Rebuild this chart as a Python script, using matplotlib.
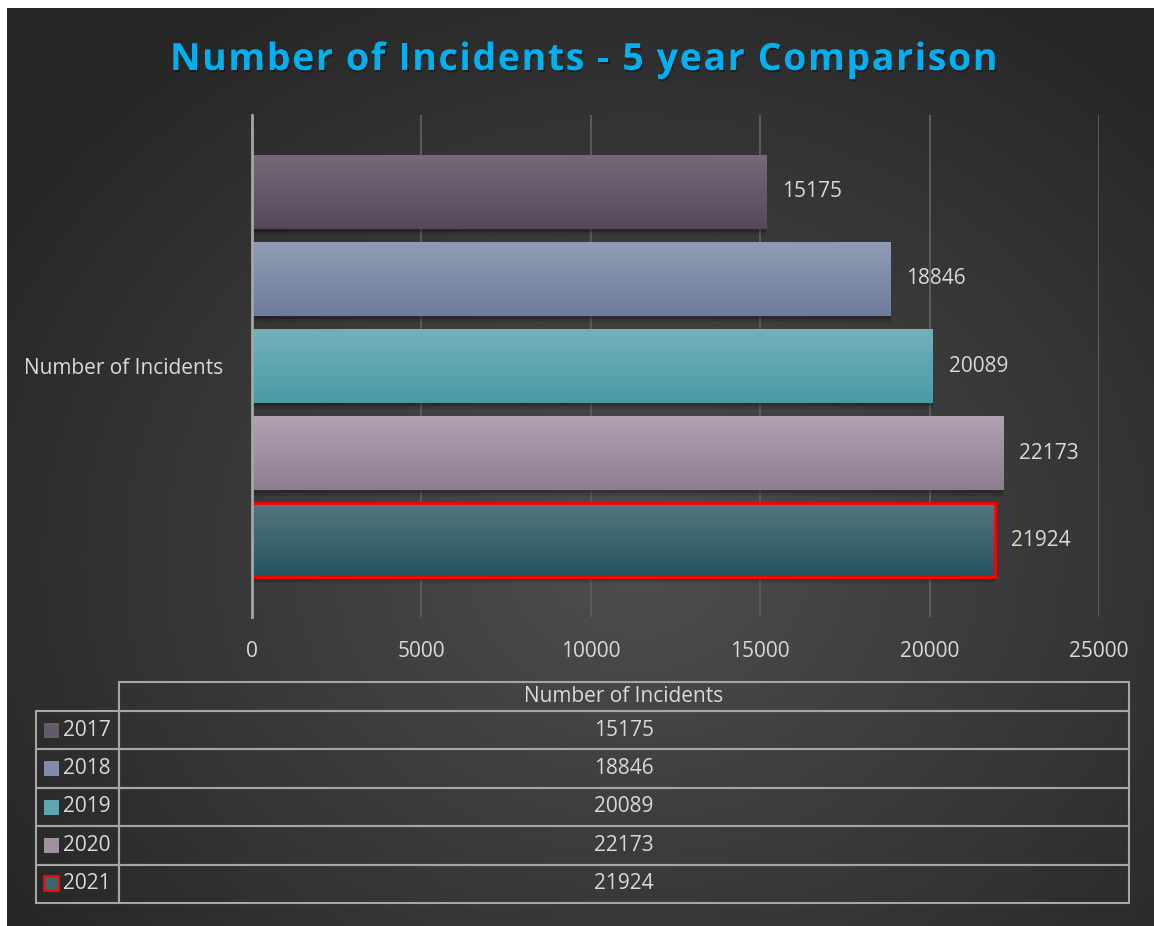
import numpy as np
import matplotlib.pyplot as plt
import matplotlib.patheffects as pe
from matplotlib.colors import LinearSegmentedColormap
from matplotlib.table import Table
from matplotlib.patches import Rectangle
from matplotlib.font_manager import FontProperties, findfont
from matplotlib.ft2font import FT2Font

plt.rcParams['font.family'] = ['Open Sans', 'DejaVu Sans']

# dados
anos = ['2017', '2018', '2019', '2020', '2021']
incidentes = [15175, 18846, 20089, 22173, 21924]
categoria = 'Number of Incidents'
titulo = 'Number of Incidents - 5 year Comparison'
ticks_x = [0, 5000, 10000, 15000, 20000, 25000]

# cores (topo / base do gradiente de cada barra)
cores_topo = ['#766a79', '#909cb4', '#74b0b9', '#b1a2b2', '#54767e']
cores_base = ['#54485a', '#6d7d9b', '#4a9aa6', '#8e7d91', '#245460']
cor_texto = '#d9d9d9'
cor_linha = '#a6a6a6'
tam = 15

W, H = 1154, 926
fig = plt.figure(figsize=(W / 100, H / 100), dpi=100, facecolor='white')

# fundo escuro com gradiente radial
ax_fundo = fig.add_axes([7 / W, 0, 1 - 7 / W, 1 - 8 / H])
ax_fundo.set_axis_off()
yy, xx = np.mgrid[-1:1:300j, -1:1:400j]
r = np.sqrt(((xx - 0.1) / 1.3) ** 2 + ((yy - 0.2) / 1.4) ** 2)
cmap_fundo = LinearSegmentedColormap.from_list('fundo', ['#272727', '#4e4e4e'])
ax_fundo.imshow(np.clip(1 - r, 0, 1), cmap=cmap_fundo, aspect='auto', vmin=0, vmax=1,
                extent=(0, 1, 0, 1))

# titulo com espacamento entre letras (caractere a caractere)
tam_titulo = 27
fp = FontProperties(family='Open Sans', weight='bold', size=tam_titulo)
fonte = FT2Font(findfont(fp))
fonte.set_size(tam_titulo, 100)
avancos = [fonte.load_char(ord(c)).linearHoriAdvance / 65536 for c in titulo]
x_ini, x_fim = 170, 995
espaco = (x_fim - x_ini - sum(avancos[:-1]) - avancos[-1] * 0.9) / (len(titulo) - 1)
x = x_ini
for c, a in zip(titulo, avancos):
    fig.text(x / W, 1 - 70 / H, c, ha='left', va='baseline', fontproperties=fp,
             color='#00b0f0',
             path_effects=[pe.SimplePatchShadow(offset=(1, -1.5), shadow_rgbFace='black', alpha=0.35),
                           pe.Normal()])
    x += a + espaco

# grafico de barras
ax = fig.add_axes([252 / W, 1 - 617 / H, 847 / W, 502 / H])
ax.set_facecolor('none')
pos = np.arange(len(anos))
barras = ax.barh(pos, incidentes, height=0.85, color=cores_base, zorder=2,
                 path_effects=[pe.SimplePatchShadow(offset=(0, -4.5), shadow_rgbFace='black', alpha=0.12),
                               pe.SimplePatchShadow(offset=(0, -2.5), shadow_rgbFace='black', alpha=0.2),
                               pe.Normal()])
for i, b in enumerate(barras):
    cm = LinearSegmentedColormap.from_list('g%d' % i, [cores_topo[i], cores_base[i]])
    grad = np.linspace(0, 1, 100).reshape(-1, 1)
    x0, y0, w, h = b.get_x(), b.get_y(), b.get_width(), b.get_height()
    ax.imshow(grad, cmap=cm, aspect='auto', extent=(x0, x0 + w, y0 + h, y0), zorder=3)
# borda vermelha da ultima barra
ax.barh(pos[-1:], incidentes[-1:], height=0.85, color='none', edgecolor='#ff0000',
        linewidth=2, zorder=4)

ax.bar_label(barras, labels=[str(v) for v in incidentes], padding=11.5, color=cor_texto,
             fontsize=tam)

ax.set_xlim(0, 25000)
ax.set_ylim(len(anos) - 1 + 0.885, -0.885)
ax.set_xticks(ticks_x)
ax.set_yticks([(len(anos) - 1) / 2])
ax.set_yticklabels([categoria])
ax.tick_params(axis='x', length=0, pad=17, labelcolor=cor_texto, labelsize=tam)
ax.tick_params(axis='y', length=0, pad=21, labelcolor=cor_texto, labelsize=tam)
ax.grid(axis='x', color='#5a5a5a', linewidth=1.5, zorder=0)
ax.set_axisbelow(True)
for lado in ['top', 'right', 'bottom']:
    ax.spines[lado].set_visible(False)
ax.spines['left'].set_color(cor_linha)
ax.spines['left'].set_linewidth(2)
ax.spines['left'].set_zorder(5)

# tabela de dados
ax_tab = fig.add_axes([36 / W, 1 - 903 / H, (1129 - 36) / W, (903 - 682) / H])
ax_tab.set_axis_off()
tab = Table(ax_tab, bbox=[0, 0, 1, 1])
larg_rot, larg_val = 83, 1010
alt_cab, alt_lin = 29, 38.4
tab.add_cell(0, 1, larg_val, alt_cab, text=categoria, loc='center')
for i, (ano, v) in enumerate(zip(anos, incidentes)):
    tab.add_cell(i + 1, 0, larg_rot, alt_lin, text=ano, loc='right')
    tab.add_cell(i + 1, 1, larg_val, alt_lin, text=str(v), loc='center')
tab.auto_set_font_size(False)
tab.set_fontsize(tam)
for cel in tab.get_celld().values():
    cel.set_facecolor('none')
    cel.set_edgecolor(cor_linha)
    cel.set_linewidth(1.5)
    cel.get_text().set_color(cor_texto)
ax_tab.add_table(tab)

# quadradinhos da legenda na tabela
alt_total = alt_cab + alt_lin * len(anos)
for i in range(len(anos)):
    centro = 1 - (alt_cab + alt_lin * (i + 0.5)) / alt_total
    meio = [(int(cores_topo[i][k:k + 2], 16) + int(cores_base[i][k:k + 2], 16)) / 510 for k in (1, 3, 5)]
    borda = '#ff0000' if i == len(anos) - 1 else 'none'
    ax_tab.add_patch(Rectangle((8 / 1093, centro - 7.5 / 221), 15 / 1093, 15 / 221,
                               facecolor=meio, edgecolor=borda, linewidth=1.5,
                               transform=ax_tab.transAxes))

fig.savefig('out.png', dpi=100, facecolor='white')
